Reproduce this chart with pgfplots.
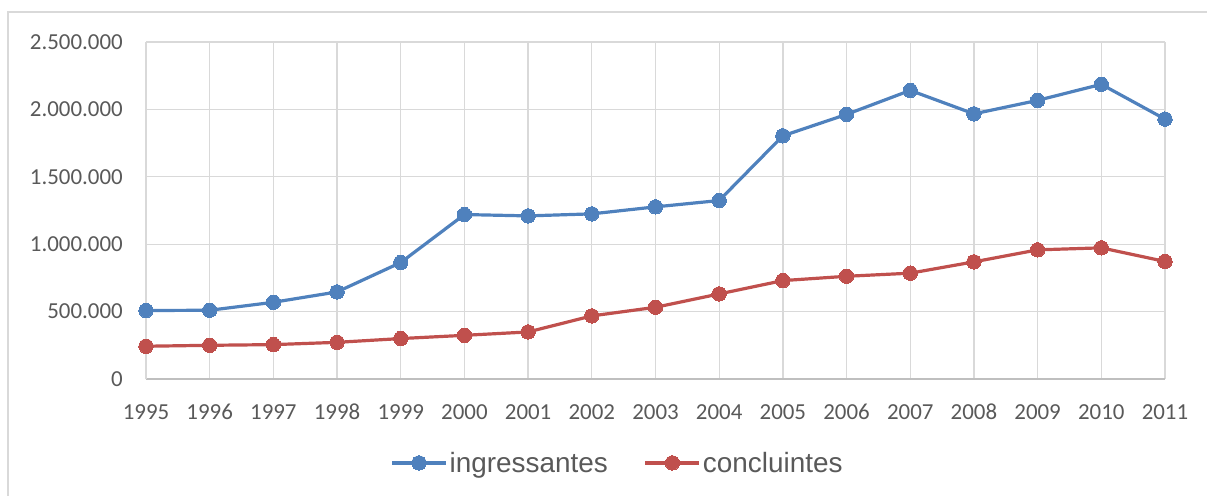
\documentclass[border=0pt]{standalone}
\usepackage{pgfplots}
\pgfplotsset{compat=1.18}
\usepackage{fontspec}
\setmainfont{Carlito}
\newfontfamily\legendfont{Liberation Sans}

\definecolor{serieA}{HTML}{4F81BD}
\definecolor{serieB}{HTML}{C0504D}
\definecolor{gridc}{HTML}{D9D9D9}
\definecolor{axisc}{HTML}{BFBFBF}
\definecolor{labelc}{HTML}{595959}

\begin{document}
\begin{tikzpicture}
\useasboundingbox (0,0) rectangle (1207bp,496bp);
% outer chart frame
\draw[gridc, line width=1.5bp] (8bp,0) -- (8bp,484bp) -- (1207bp,484bp);

\begin{axis}[
  at={(146bp,117bp)}, anchor=south west,
  scale only axis, width=1019bp, height=337bp,
  xmin=1995, xmax=2011, ymin=0, ymax=2500000,
  xtick={1995,1996,1997,1998,1999,2000,2001,2002,2003,2004,2005,2006,2007,2008,2009,2010,2011},
  xticklabels={1995,1996,1997,1998,1999,2000,2001,2002,2003,2004,2005,2006,2007,2008,2009,2010,2011},
  ytick={0,500000,1000000,1500000,2000000,2500000},
  yticklabels={0,500.000,1.000.000,1.500.000,2.000.000,2.500.000},
  scaled y ticks=false,
  major tick length=0pt,
  grid=major,
  major grid style={gridc, line width=1.3bp},
  axis x line*=bottom, axis y line*=left,
  x axis line style={axisc, line width=1.5bp, -},
  y axis line style={gridc, line width=1.5bp, -},
  tick label style={font=\fontsize{23}{26}\selectfont, text=labelc, inner sep=0pt},
  yticklabel style={anchor=east, xshift=-23bp},
  xticklabel style={anchor=north, yshift=-25bp},
  legend columns=2,
  legend style={at={(0.4627,-0.249)}, anchor=center, draw=none, fill=none,
    font=\legendfont\fontsize{28}{31}\selectfont, text=labelc,
    /tikz/every even column/.append style={column sep=34bp},
    inner sep=0pt},
  legend cell align=left,
  legend image code/.code={
    \draw[mark repeat=2, mark phase=2] plot coordinates {(0bp,0bp) (27bp,0bp) (54bp,0bp)};
  },
]
\addplot[serieA, line width=3.2bp, mark=*, mark size=7.2bp, mark options={solid, fill=serieA, draw=serieA, line width=0pt}]
coordinates {
(1995,508000) (1996,510000) (1997,569000) (1998,646000) (1999,864000)
(2000,1220000) (2001,1210000) (2002,1225000) (2003,1277000) (2004,1324000)
(2005,1804000) (2006,1963000) (2007,2141000) (2008,1967000) (2009,2067000)
(2010,2186000) (2011,1928000)
};
\addlegendentry{ingressantes}
\addplot[serieB, line width=3.2bp, mark=*, mark size=7.2bp, mark options={solid, fill=serieB, draw=serieB, line width=0pt}]
coordinates {
(1995,243000) (1996,250000) (1997,255000) (1998,272000) (1999,300000)
(2000,324000) (2001,349000) (2002,468000) (2003,532000) (2004,631000)
(2005,730000) (2006,762000) (2007,785000) (2008,869000) (2009,958000)
(2010,973000) (2011,872000)
};
\addlegendentry{concluintes}
\end{axis}
\end{tikzpicture}
\end{document}
